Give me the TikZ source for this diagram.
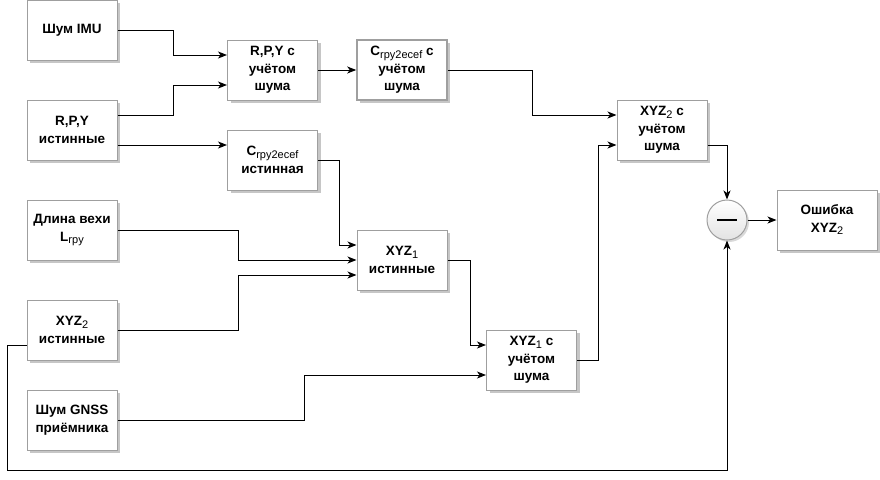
\documentclass[tikz,border=0pt]{standalone}
\usepackage{fontspec}
\setmainfont{Liberation Sans}
\usetikzlibrary{arrows.meta,shadows,calc}
\newcommand\subtx[1]{\raisebox{-2.5pt}{\fontsize{11}{11}\selectfont\mdseries #1}}
\tikzset{
  blk/.style={draw=gray!75, line width=1pt, fill=white, minimum width=90pt, minimum height=60pt,
    align=center, inner sep=1pt,
    font=\fontsize{13.5}{17.5}\selectfont\bfseries,
    drop shadow={shadow xshift=3pt, shadow yshift=-3pt, fill=gray!45, opacity=1}},
  arr/.style={draw=black, line width=1pt, -{Stealth[length=9pt,width=7pt,inset=2.5pt]}},
}
\begin{document}
\begin{tikzpicture}[x=1pt,y=-1pt]
\useasboundingbox (0,0) rectangle (880,479);
\node[blk] (imu) at (72,30) {Шум IMU};
\node[blk] (rpyt) at (72,130) {R,P,Y\\истинные};
\node[blk] (rpyn) at (272.5,70) {R,P,Y с\\учётом\\шума};
\node[blk, line width=1.6pt] (cn) at (402,70) {C\subtx{rpy2ecef} с\\учётом\\шума};
\node[blk] (ct) at (272.5,160) {C\subtx{rpy2ecef}\\истинная};
\node[blk] (len) at (72,230) {Длина вехи\\L\subtx{rpy}};
\node[blk] (xyz2t) at (72,330) {XYZ\subtx{2}\\истинные};
\node[blk] (gnss) at (72,420) {Шум GNSS\\приёмника};
\node[blk] (xyz1t) at (402,260) {XYZ\subtx{1}\\истинные};
\node[blk] (xyz1n) at (531.5,360) {XYZ\subtx{1} с\\учётом\\шума};
\node[blk] (xyz2n) at (662,130) {XYZ\subtx{2} с\\учётом\\шума};
\node[blk, minimum width=100pt] (err) at (827,220) {Ошибка\\XYZ\subtx{2}};
\node[circle, draw=gray!75, line width=1pt, minimum size=40pt, inner sep=0pt,
      top color=white, bottom color=gray!22,
      drop shadow={shadow xshift=2pt, shadow yshift=-2pt, fill=gray!30, opacity=1}] (circ) at (727,220)
      {\rule[-1.25pt]{20pt}{2.5pt}};

\draw[arr] (imu.east) -- ++(55.5,0) |- ([yshift=15pt]rpyn.west);
\draw[arr] ([yshift=15pt]rpyt.east) -- ++(55.5,0) |- ([yshift=-15pt]rpyn.west);
\draw[arr] ([yshift=-15pt]rpyt.east) -- ([yshift=15pt]ct.west);
\draw[arr] (rpyn.east) -- (cn.west);
\draw[arr] (cn.east) -- ++(85,0) |- ([yshift=15pt]xyz2n.west);
\draw[arr] (ct.east) -- ++(21,0) |- ([yshift=15pt]xyz1t.west);
\draw[arr] (len.east) -- ++(121,0) |- (xyz1t.west);
\draw[arr] (xyz2t.east) -- ++(121,0) |- ([yshift=-15pt]xyz1t.west);
\draw[arr] (xyz1t.east) -- ++(23,0) |- ([yshift=15pt]xyz1n.west);
\draw[arr] (gnss.east) -- ++(187,0) |- ([yshift=-15pt]xyz1n.west);
\draw[arr] (xyz1n.east) -- ++(21.5,0) |- ([yshift=-15pt]xyz2n.west);
\draw[arr] ([yshift=-15pt]xyz2n.east) -| (circ.north);
\draw[arr] (circ.east) -- (err.west);
\coordinate (bl) at (7.5,470);
\draw[arr] ([yshift=-15pt]xyz2t.west) -| (bl) -| (circ.south);
\end{tikzpicture}
\end{document}
